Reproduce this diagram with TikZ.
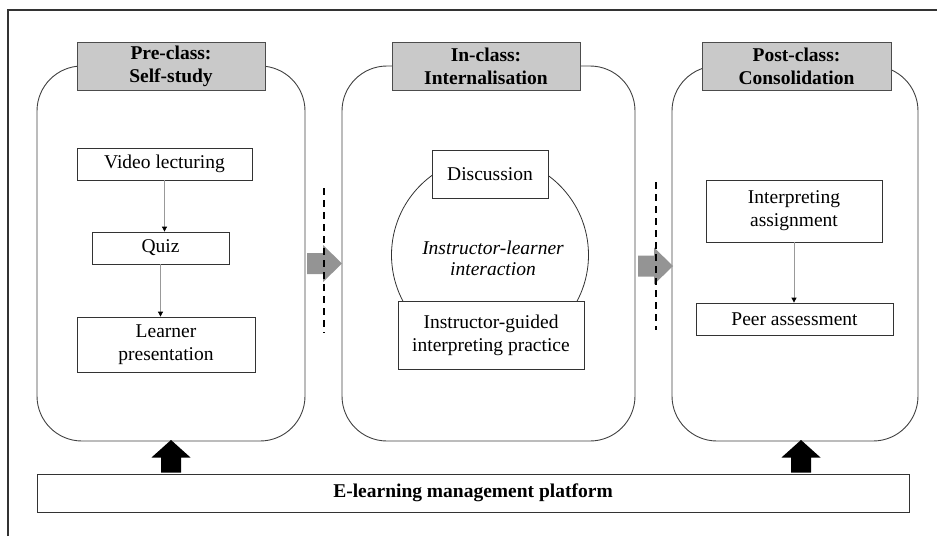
\documentclass[tikz,border=0pt]{standalone}
\usepackage{fontspec}
\setmainfont{Liberation Serif}
\usetikzlibrary{arrows.meta}
\begin{document}
\begin{tikzpicture}[x=1pt,y=-1pt,
  font=\fontsize{19.5}{23}\selectfont,
  panel/.style={draw=black!75, line width=0.9pt, rounded corners=45pt, minimum width=#1, minimum height=375pt, inner sep=0pt},
  header/.style={draw=black!70, fill=black!21, line width=0.9pt, minimum width=188pt, minimum height=48pt, inner sep=0pt, align=center, font=\fontsize{19.5}{23}\selectfont\bfseries},
  box/.style={draw=black!80, fill=white, line width=0.8pt, inner sep=0pt, align=center},
  flow/.style={draw=black!40, line width=0.8pt, -{Triangle[length=5pt,width=5pt,color=black]}},
  grayfill/.style={fill=black!42, draw=none},
  blackfill/.style={fill=black, draw=none},
  divider/.style={draw=black, line width=1.4pt, dash pattern=on 7pt off 5pt},
  frame/.style={draw=black!80, line width=1.1pt}
]
\useasboundingbox (0,0) rectangle (937,536);
% outer frame (top and left edges visible)
\coordinate (fbl) at (8,536);
\coordinate (ftl) at (8,10);
\coordinate (ftr) at (937,10);
\draw[frame] (fbl) -- (ftl) -- (ftr);

% panels
\node[panel=268pt] (p1) at (171,253.5) {};
\node[panel=293pt] (p2) at (488.5,253.5) {};
\node[panel=246pt] (p3) at (795,253.5) {};

% headers
\node[header] (h1) at (171,66) {Pre-class:\\Self-study};
\node[header] (h2) at (486,66) {In-class:\\Internalisation};
\node[header, minimum width=189pt] (h3) at (796.5,66) {Post-class:\\Consolidation};

% pre-class boxes
\node[box, minimum width=175pt, minimum height=32pt] (vid) at (164.5,164) {Video lecturing};
\node[box, minimum width=137pt, minimum height=32pt] (quiz) at (160.5,248) {Quiz};
\node[box, minimum width=178pt, minimum height=55pt] (learner) at (166,344.5) {Learner\\presentation};
\draw[flow] (vid.south) -- (vid.south |- quiz.north);
\draw[flow] (quiz.south) -- (quiz.south |- learner.north);

% in-class
\node[draw=black!80, line width=0.8pt, circle, minimum size=197pt, inner sep=0pt] (circ) at (490,255) {};
\node[align=center, inner sep=0pt, font=\fontsize{19.5}{21}\selectfont\itshape] (circtext) at (493,258) {Instructor-learner\\interaction};
\node[box, minimum width=116pt, minimum height=48pt] (disc) at (490,174) {Discussion};
\node[box, minimum width=186pt, minimum height=68pt] (guided) at (491,335) {Instructor-guided\\interpreting practice};

% post-class
\node[box, minimum width=176pt, minimum height=62pt] (assign) at (794,211) {Interpreting\\assignment};
\node[box, minimum width=197pt, minimum height=32pt] (peer) at (794.5,319) {Peer assessment};
\draw[flow] (assign.south) -- (assign.south |- peer.north);

% transitions (grey block arrows, dashed dividers on top)
\coordinate (ga1) at (307,263.5);
\coordinate (ga2) at (638,266);
\fill[grayfill] (ga1) ++(0,-10.5) -- ++(16,0) -- ++(0,-8) -- ++(19,18.5) -- ++(-19,18.5) -- ++(0,-8) -- ++(-16,0) -- cycle;
\fill[grayfill] (ga2) ++(0,-10.5) -- ++(16,0) -- ++(0,-8) -- ++(19,18.5) -- ++(-19,18.5) -- ++(0,-8) -- ++(-16,0) -- cycle;
\coordinate (d1a) at (324,188);
\coordinate (d1b) at (324,333);
\coordinate (d2a) at (656,182);
\coordinate (d2b) at (656,330);
\draw[divider] (d1a) -- (d1b);
\draw[divider] (d2a) -- (d2b);

% platform
\node[box, minimum width=872pt, minimum height=38pt, font=\fontsize{19.5}{23}\selectfont\bfseries] (plat) at (473,493) {E-learning management platform};
\coordinate (ba1) at (171,472.5);
\coordinate (ba2) at (801,472.5);
\fill[blackfill] (ba1) ++(-10,0) -- ++(0,-15) -- ++(-9.5,0) -- ++(19.5,-17.5) -- ++(19.5,17.5) -- ++(-9.5,0) -- ++(0,15) -- cycle;
\fill[blackfill] (ba2) ++(-10,0) -- ++(0,-15) -- ++(-9.5,0) -- ++(19.5,-17.5) -- ++(19.5,17.5) -- ++(-9.5,0) -- ++(0,15) -- cycle;
\end{tikzpicture}
\end{document}
